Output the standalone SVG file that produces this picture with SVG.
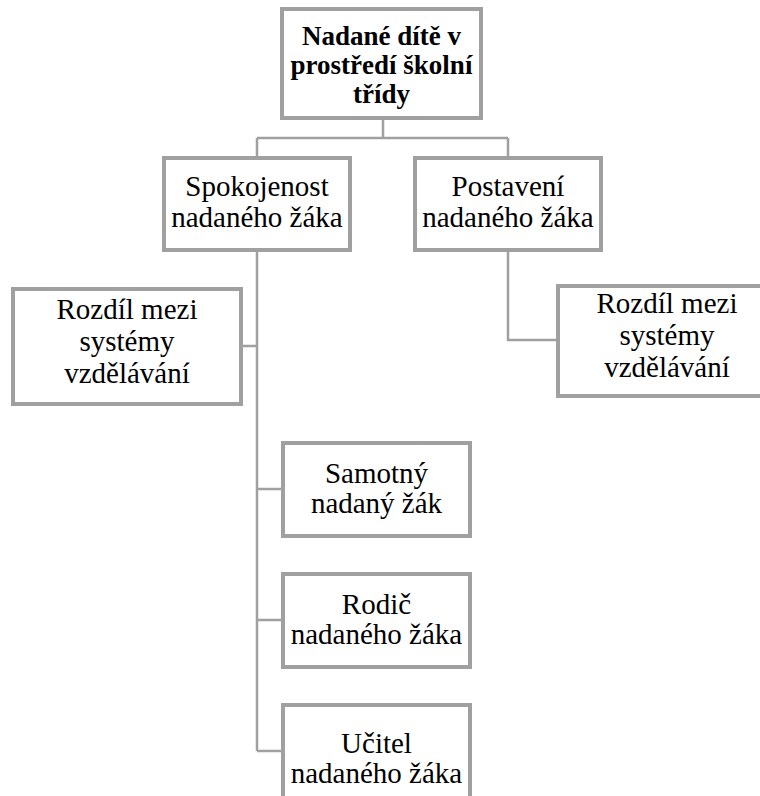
<svg xmlns="http://www.w3.org/2000/svg" width="760" height="796" viewBox="0 0 760 796">
<style>
.box{fill:#fff;stroke:#a0a0a0;stroke-width:4}
.con{fill:none;stroke:#a0a0a0;stroke-width:2.5}
.t{font-size:29px;fill:#000;text-anchor:middle}
.b{font-weight:bold;font-size:27px}
</style>
<rect width="760" height="796" fill="#fff"/>
<g id="connectors">
<path class="con" d="M383 118V138M257 138H508M257 138V158M508 138V158"/>
<path class="con" d="M257 250V751M241 346H257M257 489H283M257 620H283M257 751H283"/>
<path class="con" d="M508 250V340H558"/>
</g>
<g font-family="Liberation Serif, Tinos, Times New Roman, DejaVu Serif, serif">
<g id="root">
<rect class="box" x="282" y="9" width="199" height="109"/>
<text class="t b" x="381.5" y="45">Nadané dítě v</text>
<text class="t b" x="381.5" y="74">prostředí školní</text>
<text class="t b" x="381.5" y="103">třídy</text>
</g>
<g id="spokojenost">
<rect class="box" x="164" y="158" width="186" height="92"/>
<text class="t" x="257" y="196">Spokojenost</text>
<text class="t" x="257" y="227">nadaného žáka</text>
</g>
<g id="postaveni">
<rect class="box" x="415" y="158" width="186" height="92"/>
<text class="t" x="508" y="196">Postavení</text>
<text class="t" x="508" y="227">nadaného žáka</text>
</g>
<g id="rozdil-left">
<rect class="box" x="13" y="289" width="228" height="115"/>
<text class="t" x="127" y="319">Rozdíl mezi</text>
<text class="t" x="127" y="351">systémy</text>
<text class="t" x="127" y="383">vzdělávání</text>
</g>
<g id="rozdil-right">
<rect class="box" x="558" y="286" width="218" height="110"/>
<text class="t" x="667" y="313">Rozdíl mezi</text>
<text class="t" x="667" y="345">systémy</text>
<text class="t" x="667" y="377">vzdělávání</text>
</g>
<g id="samotny">
<rect class="box" x="283" y="443" width="187" height="93"/>
<text class="t" x="376.5" y="483">Samotný</text>
<text class="t" x="376.5" y="513">nadaný žák</text>
</g>
<g id="rodic">
<rect class="box" x="283" y="574" width="187" height="93"/>
<text class="t" x="376.5" y="614">Rodič</text>
<text class="t" x="376.5" y="644">nadaného žáka</text>
</g>
<g id="ucitel">
<rect class="box" x="283" y="705" width="187" height="100"/>
<text class="t" x="376.5" y="753">Učitel</text>
<text class="t" x="376.5" y="783">nadaného žáka</text>
</g>
</g>
</svg>
